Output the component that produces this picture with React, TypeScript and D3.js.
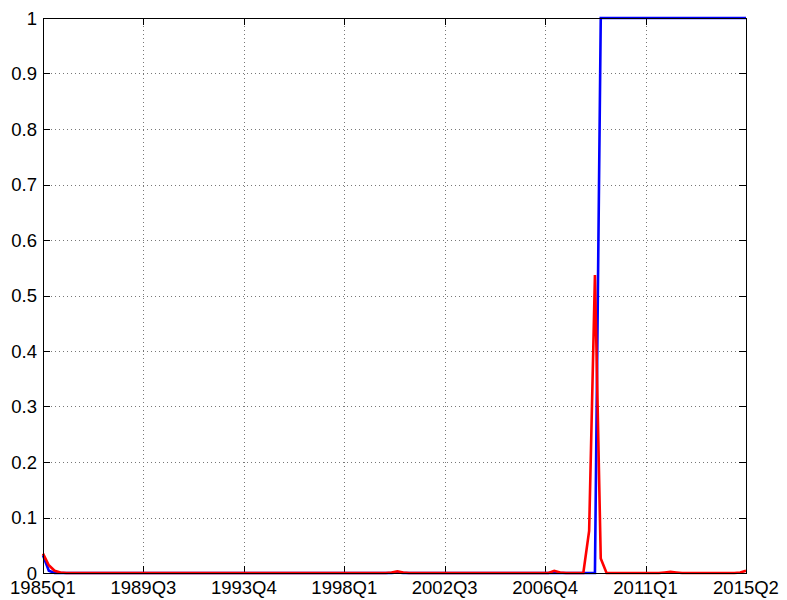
import React from 'react';
import * as d3 from 'd3';

// Quarterly periods 1985Q1 .. 2015Q2
const quarters: string[] = [];
for (let y = 1985; y <= 2015; y++) {
  for (let q = 1; q <= 4; q++) {
    if (y === 2015 && q > 2) break;
    quarters.push(`${y}Q${q}`);
  }
}

// Blue series (one value per quarter)
const blueSeries: number[] = [
  0.032, 0.004, 0, 0, 0, 0, 0, 0, 0, 0,
  0, 0, 0, 0, 0, 0, 0, 0, 0, 0,
  0, 0, 0, 0, 0, 0, 0, 0, 0, 0,
  0, 0, 0, 0, 0, 0, 0, 0, 0, 0,
  0, 0, 0, 0, 0, 0, 0, 0, 0, 0,
  0, 0, 0, 0, 0, 0, 0, 0, 0, 0,
  0, 0.001, 0, 0, 0, 0, 0, 0, 0, 0,
  0, 0, 0, 0, 0, 0, 0, 0, 0, 0,
  0, 0, 0, 0, 0, 0, 0, 0, 0, 0,
  0, 0, 0, 0, 0, 0, 1, 1, 1, 1,
  1, 1, 1, 1, 1, 1, 1, 1, 1, 1,
  1, 1, 1, 1, 1, 1, 1, 1, 1, 1,
  1, 1,
];

// Red series (one value per quarter)
const redSeries: number[] = [
  0.035, 0.014, 0.004, 0.001, 0, 0, 0, 0, 0, 0,
  0, 0, 0, 0, 0, 0, 0, 0, 0, 0,
  0, 0, 0, 0, 0, 0, 0, 0, 0, 0,
  0, 0, 0, 0, 0, 0, 0, 0, 0, 0,
  0, 0, 0, 0, 0, 0, 0, 0, 0, 0,
  0, 0, 0, 0, 0, 0, 0, 0, 0, 0,
  0.001, 0.003, 0.001, 0, 0, 0, 0, 0, 0, 0,
  0, 0, 0, 0, 0, 0, 0, 0, 0, 0,
  0, 0, 0, 0, 0, 0, 0, 0, 0.004, 0.001,
  0, 0, 0, 0, 0.076, 0.537, 0.026, 0, 0, 0,
  0, 0, 0, 0, 0, 0, 0, 0.001, 0.002, 0.001,
  0, 0, 0, 0, 0, 0, 0, 0, 0, 0,
  0.001, 0.004,
];

const xTickLabels: string[] = ['1985Q1', '1989Q3', '1993Q4', '1998Q1', '2002Q3', '2006Q4', '2011Q1', '2015Q2'];
const yTicks: number[] = [0, 0.1, 0.2, 0.3, 0.4, 0.5, 0.6, 0.7, 0.8, 0.9, 1];

const W = 787;
const H = 600;
const left = 43;
const right = 746;
const top = 18;
const bottom = 573;
const FONT = '"Liberation Sans", Arial, Helvetica, sans-serif';

export default function App() {
  const n = quarters.length;
  const x = d3.scaleLinear().domain([1, n]).range([left, right]);
  const y = d3.scaleLinear().domain([0, 1]).range([bottom, top]);

  // evenly spaced tick positions across the quarter index range
  const xTickPos = xTickLabels.map((_, k) => 1 + (k * (n - 1)) / (xTickLabels.length - 1));

  const line = d3
    .line<number>()
    .x((_, i) => x(i + 1))
    .y((v) => y(v));

  const tickLen = 7;

  return (
    <svg
      width={W}
      height={H}
      style={{ position: 'absolute', left: 0, top: 0, display: 'block', background: '#fff' }}
    >
      <rect x={0} y={0} width={W} height={H} fill="#fff" />
      {/* grid */}
      <g stroke="#777" strokeWidth={1} strokeDasharray="1,3">
        {xTickPos.slice(1, -1).map((p, k) => (
          <line key={`gx${k}`} x1={Math.round(x(p)) + 0.5} x2={Math.round(x(p)) + 0.5} y1={top} y2={bottom} />
        ))}
        {yTicks.slice(1, -1).map((t, k) => (
          <line key={`gy${k}`} x1={left} x2={right} y1={Math.round(y(t)) + 0.5} y2={Math.round(y(t)) + 0.5} />
        ))}
      </g>
      {/* ticks on all four sides */}
      <g stroke="#000" strokeWidth={1}>
        {xTickPos.map((p, k) => {
          const px = Math.round(x(p)) + 0.5;
          return (
            <g key={`tx${k}`}>
              <line x1={px} x2={px} y1={bottom} y2={bottom - tickLen} />
              <line x1={px} x2={px} y1={top} y2={top + tickLen} />
            </g>
          );
        })}
        {yTicks.map((t, k) => {
          const py = Math.round(y(t)) + 0.5;
          return (
            <g key={`ty${k}`}>
              <line x1={left} x2={left + tickLen} y1={py} y2={py} />
              <line x1={right} x2={right - tickLen} y1={py} y2={py} />
            </g>
          );
        })}
      </g>
      {/* data lines */}
      <path d={line(blueSeries) || ''} fill="none" stroke="#0000ff" strokeWidth={2.6} strokeLinejoin="miter" />
      <path d={line(redSeries) || ''} fill="none" stroke="#ff0000" strokeWidth={2.6} strokeLinejoin="miter" />
      {/* axes box */}
      <rect
        x={left + 0.5}
        y={top + 0.5}
        width={right - left}
        height={bottom - top}
        fill="none"
        stroke="#000"
        strokeWidth={1}
      />
      {/* tick labels */}
      <g fontFamily={FONT} fontSize={18.5} fill="#000">
        {xTickPos.map((p, k) => (
          <text key={`lx${k}`} x={x(p)} y={594} textAnchor="middle">
            {xTickLabels[k]}
          </text>
        ))}
        {yTicks.map((t, k) => (
          <text key={`ly${k}`} x={37} y={y(t) + 6.6} textAnchor="end">
            {d3.format('~g')(t)}
          </text>
        ))}
      </g>
    </svg>
  );
}
